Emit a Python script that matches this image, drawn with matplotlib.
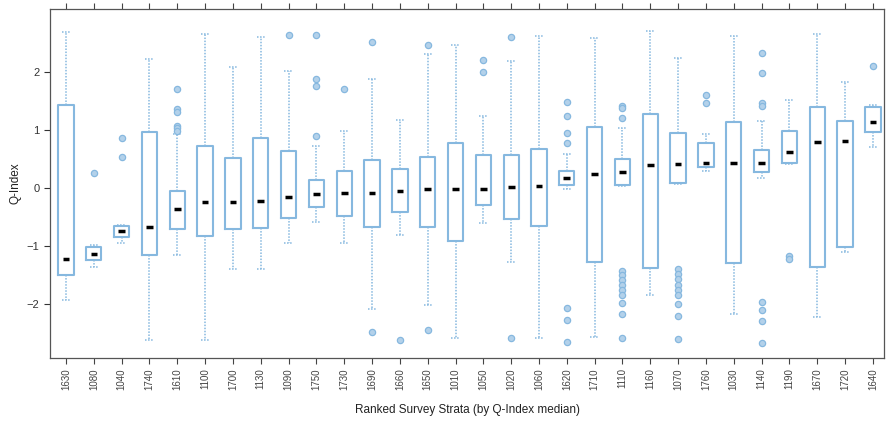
import matplotlib
matplotlib.use("Agg")
import matplotlib.pyplot as plt
import numpy as np

plt.rcParams["font.family"] = ["Liberation Sans", "DejaVu Sans"]

# Survey strata, ranked by Q-Index median
strata = ["1630", "1080", "1040", "1740", "1610", "1100", "1700", "1130", "1090", "1750",
          "1730", "1690", "1660", "1650", "1010", "1050", "1020", "1060", "1620", "1710",
          "1110", "1160", "1070", "1760", "1030", "1140", "1190", "1670", "1720", "1640"]

medians = [-1.22, -1.14, -0.75, -0.67, -0.37, -0.24, -0.24, -0.22, -0.16, -0.11,
           -0.08, -0.08, -0.05, -0.02, -0.01, -0.01, 0.02, 0.04, 0.18, 0.24,
           0.27, 0.40, 0.41, 0.43, 0.43, 0.43, 0.62, 0.80, 0.82, 1.14]
q1 = [-1.50, -1.24, -0.85, -1.16, -0.71, -0.83, -0.70, -0.69, -0.51, -0.32,
      -0.48, -0.67, -0.41, -0.67, -0.92, -0.29, -0.53, -0.65, 0.06, -1.28,
      0.05, -1.38, 0.08, 0.37, -1.29, 0.27, 0.43, -1.36, -1.02, 0.97]
q3 = [1.43, -1.01, -0.65, 0.96, -0.05, 0.72, 0.52, 0.86, 0.64, 0.14,
      0.30, 0.48, 0.32, 0.53, 0.77, 0.57, 0.57, 0.68, 0.30, 1.05,
      0.50, 1.28, 0.95, 0.77, 1.14, 0.66, 0.99, 1.39, 1.16, 1.39]
whis_lo = [-1.94, -1.37, -0.94, -2.63, -1.16, -2.63, -1.40, -1.39, -0.94, -0.59,
           -0.94, -2.09, -0.81, -2.02, -2.59, -0.61, -1.27, -2.59, -0.02, -2.57,
           0.03, -1.84, 0.07, 0.30, -2.17, 0.17, 0.42, -2.22, -1.10, 0.70]
whis_hi = [2.69, -0.98, -0.63, 2.22, 0.93, 2.65, 2.09, 2.61, 2.02, 0.73,
           0.99, 1.88, 1.18, 2.31, 2.47, 1.24, 2.19, 2.62, 0.59, 2.59,
           1.03, 2.71, 2.24, 0.93, 2.62, 1.16, 1.52, 2.65, 1.83, 1.43]
outliers = [
    [], [0.26], [0.87, 0.54], [], [1.71, 1.37, 1.32, 1.07, 1.03, 0.99],
    [], [], [], [2.64], [2.64, 1.88, 1.76, 0.90],
    [1.71], [2.52, -2.49], [-2.62], [2.47, -2.45], [],
    [2.21, 2.00], [2.61, -2.59], [], [1.48, 1.24, 0.95, 0.77, -2.07, -2.28, -2.66], [],
    [1.41, 1.38, 1.20, -1.43, -1.50, -1.59, -1.67, -1.76, -1.84, -1.98, -2.17, -2.59],
    [], [-1.40, -1.48, -1.57, -1.67, -1.76, -1.85, -2.00, -2.21, -2.61], [1.60, 1.46], [],
    [2.33, 1.99, 1.46, 1.41, -1.96, -2.10, -2.30, -2.68], [-1.18, -1.22], [], [], [2.11],
]

box_color = "#86b8df"

stats = []
for i in range(len(strata)):
    stats.append({"med": medians[i], "q1": q1[i], "q3": q3[i],
                  "whislo": whis_lo[i], "whishi": whis_hi[i],
                  "fliers": outliers[i], "label": strata[i]})

fig = plt.figure(figsize=(8.87, 4.26), dpi=100)
ax = fig.add_axes([0.0564, 0.160, 0.9402, 0.819])

pos = np.arange(len(strata))
ax.bxp(stats, positions=pos, widths=0.55, patch_artist=False,
       boxprops=dict(color=box_color, linewidth=1.5),
       whiskerprops=dict(color=box_color, linewidth=1.1, linestyle=(0, (1, 1))),
       capprops=dict(color=box_color, linewidth=1.1, linestyle=(0, (1, 1))),
       capwidths=0.3,
       medianprops=dict(linewidth=0),
       flierprops=dict(marker="o", markersize=4.5, markerfacecolor="#b3d1ea",
                       markeredgecolor=box_color, markeredgewidth=0.9))

# short black median bars
ax.hlines(medians, pos - 0.12, pos + 0.12, color="black", linewidth=2.5, zorder=3)

ax.set_xlim(-0.575, 29.4)
ax.set_ylim(-2.93, 3.09)
ax.set_yticks([-2, -1, 0, 1, 2])
ax.set_xticks(pos)
ax.set_xticklabels(strata, rotation=90, fontsize=7, color="#444444")
ax.tick_params(axis="y", labelsize=8, colors="#333333", length=4)
ax.tick_params(axis="x", top=True, length=4, colors="#444444")

for side in ["top", "bottom", "left", "right"]:
    ax.spines[side].set_color("#555555")
    ax.spines[side].set_linewidth(0.9)
for side in ["top", "bottom", "right"]:
    ax.spines[side].set_linestyle((0, (2, 1)))

ax.set_ylabel("Q-Index", fontsize=8.5, color="#222222")
ax.set_xlabel("Ranked Survey Strata (by Q-Index median)", fontsize=8.5, color="#222222", labelpad=10)

fig.savefig("out.png", dpi=100)
